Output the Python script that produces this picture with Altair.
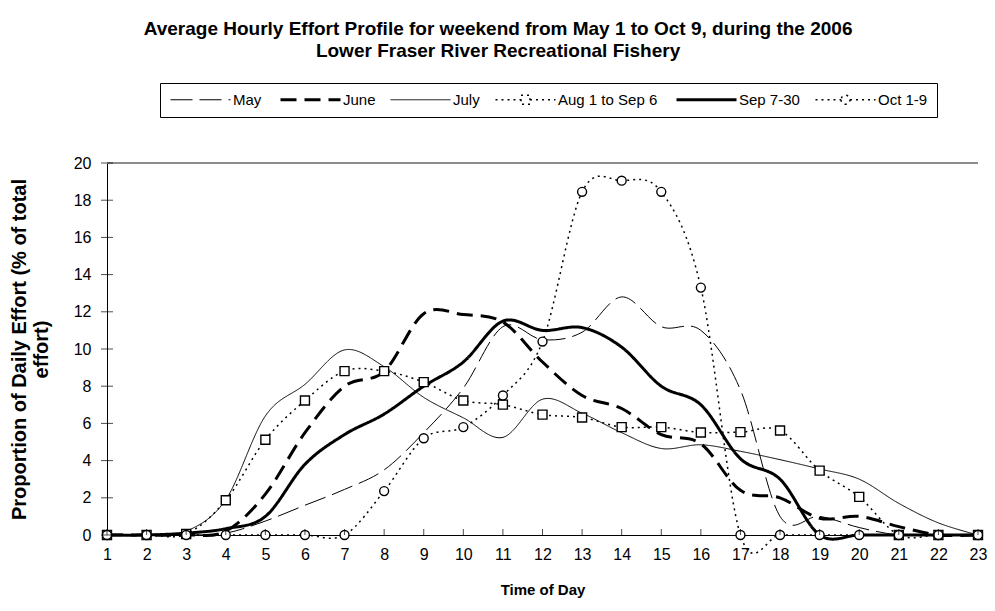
import altair as alt
import pandas as pd

hours = list(range(1, 24))
series_names = ["May", "June", "July", "Aug 1 to Sep 6", "Sep 7-30", "Oct 1-9"]

may = [0, 0, 0, 0.1, 0.75, 1.6, 2.45, 3.5, 5.5, 7.9, 11.2, 10.5, 10.9, 12.8, 11.2, 11.0, 7.8, 1.0, 1.0, 0.4, 0, 0, 0]
june = [0, 0, 0, 0.2, 2.2, 5.5, 8.0, 8.8, 11.9, 11.85, 11.45, 9.3, 7.5, 6.8, 5.4, 4.9, 2.4, 2.0, 0.9, 1.0, 0.45, 0, 0]
july = [0, 0, 0.2, 1.9, 6.4, 8.1, 9.95, 9.05, 7.4, 6.3, 5.25, 7.3, 6.55, 5.5, 4.65, 4.85, 4.5, 4.05, 3.55, 3.0, 1.7, 0.65, 0]
aug = [0, 0, 0.05, 1.87, 5.12, 7.23, 8.81, 8.81, 8.22, 7.23, 7.01, 6.47, 6.32, 5.8, 5.8, 5.51, 5.53, 5.62, 3.46, 2.05, 0, 0, 0]
sep = [0, 0, 0.1, 0.34, 1.0, 3.8, 5.4, 6.5, 8.0, 9.3, 11.5, 11.0, 11.15, 10.1, 8.0, 7.0, 4.1, 3.0, 0, 0, 0, 0, 0]
octo = [0, 0, 0, 0, 0, 0, 0, 2.36, 5.2, 5.8, 7.5, 10.4, 18.45, 19.05, 18.45, 13.3, 0, 0, 0, 0, 0, 0, 0]

y_ticks = [0, 2, 4, 6, 8, 10, 12, 14, 16, 18, 20]

values = [may, june, july, aug, sep, octo]
rows = []
for name, vals in zip(series_names, values):
    for h, v in zip(hours, vals):
        rows.append({"hour": h, "value": v, "series": name})
df = pd.DataFrame(rows)
ticks_x = pd.DataFrame({"hour": hours, "value": [0] * len(hours)})
ticks_y = pd.DataFrame({"hour": [1] * len(y_ticks), "value": y_ticks})

FONT = "Liberation Sans"

dashes = [[22, 7], [16, 8], [1, 0], [2, 4], [1, 0], [2, 4]]

line_path = "M-5,0H5"
sq_path = "M-5,0H-0.75M0.75,0H5M-0.75,-0.75H0.75V0.75H-0.75Z"
ci_path = "M-5,0H-0.75M0.75,0H5M-0.75,0A0.75,0.75 0 1,0 0.75,0A0.75,0.75 0 1,0 -0.75,0Z"

shape_expr = ("datum.value === 'Aug 1 to Sep 6' ? '" + sq_path + "' : datum.value === 'Oct 1-9' ? '"
              + ci_path + "' : '" + line_path + "'")
width_expr = ("(datum.value === 'June' || datum.value === 'Sep 7-30') ? 3 : "
              "(datum.value === 'Aug 1 to Sep 6' || datum.value === 'Oct 1-9') ? 1.5 : 1")

x_enc = alt.X("hour:Q", scale=alt.Scale(domain=[1, 23], nice=False, zero=False),
              axis=alt.Axis(values=hours, tickCount=40, format="d", title="Time of Day", tickSize=0,
                            labelPadding=11, labelOverlap=False, labelFlush=False, grid=False,
                            domainColor="black", labelFontSize=16, titleFontSize=15,
                            titleFontWeight="bold", titlePadding=20))
y_enc = alt.Y("value:Q", scale=alt.Scale(domain=[0, 20], nice=False),
              axis=alt.Axis(values=y_ticks, tickCount=40, format="d",
                            title=["Proportion of Daily Effort (% of total", "effort)"],
                            tickSize=0, labelPadding=16, labelOverlap=False, labelFlush=False,
                            grid=False, domainColor="black", labelFontSize=16, titleFontSize=20,
                            titleFontWeight="bold", titlePadding=22, titleLineHeight=22))

legend = alt.Legend(
    orient="none", legendX=53, legendY=-80, direction="horizontal", title=None,
    strokeColor="black", padding=9, labelFontSize=15, labelFont=FONT,
    symbolSize=144, symbolOffset=24, labelOffset=25, columnPadding=12,
    symbolStrokeColor="black", symbolFillColor="white",
    symbolType={"expr": shape_expr},
    symbolStrokeWidth={"expr": width_expr},
)

lines = alt.Chart(df).mark_line(interpolate="cardinal", color="black").encode(
    x=x_enc, y=y_enc,
    strokeDash=alt.StrokeDash("series:N", scale=alt.Scale(domain=series_names, range=dashes), legend=legend),
    strokeWidth={"condition": [
        {"test": "datum.series === 'June' || datum.series === 'Sep 7-30'", "value": 3},
        {"test": "datum.series === 'Aug 1 to Sep 6' || datum.series === 'Oct 1-9'", "value": 1.5}],
        "value": 1},
)

squares = alt.Chart(df).transform_filter(alt.datum.series == "Aug 1 to Sep 6").mark_point(
    shape="square", size=81, filled=True, fill="white", stroke="black", strokeWidth=1.4, opacity=1
).encode(x="hour:Q", y="value:Q")

circles = alt.Chart(df).transform_filter(alt.datum.series == "Oct 1-9").mark_point(
    shape="circle", size=80, filled=True, fill="white", stroke="black", strokeWidth=1.4, opacity=1
).encode(x="hour:Q", y="value:Q")

xticks = alt.Chart(ticks_x).mark_tick(orient="vertical", size=6, thickness=1, color="black", yOffset=-3).encode(
    x="hour:Q", y="value:Q")
yticks = alt.Chart(ticks_y).mark_tick(orient="horizontal", size=12, thickness=1, color="black").encode(
    x="hour:Q", y="value:Q")
toprule = alt.Chart(ticks_y).mark_rule(color="#8c8c8c", strokeWidth=2).encode(y=alt.datum(20))

chart = alt.layer(toprule, lines, squares, circles, xticks, yticks).properties(
    width=979, height=591,
    autosize=alt.AutoSizeParams(type="fit", contains="padding"),
    padding={"left": 1, "top": 12, "right": 0, "bottom": 2},
    title=alt.Title(["Average Hourly Effort Profile for weekend from May 1 to Oct 9, during the 2006",
                     "Lower Fraser River Recreational Fishery"],
                    fontSize=19, fontWeight="bold", font=FONT, lineHeight=22, offset=94,
                    anchor="middle", frame="bounds"),
).configure_view(stroke=None).configure_axis(
    labelFont=FONT, titleFont=FONT, labelColor="black", titleColor="black"
).configure_legend(labelColor="black")

chart.save("out.html", embed_options={"renderer": "svg", "actions": False})
